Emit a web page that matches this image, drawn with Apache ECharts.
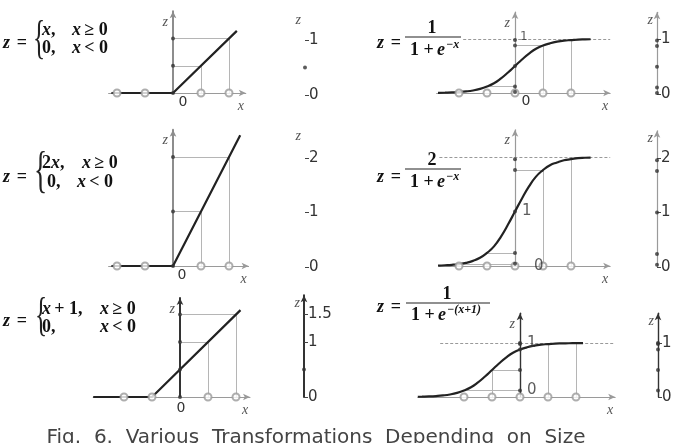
<!DOCTYPE html>
<html>
<head>
<meta charset="utf-8">
<script src="https://cdn.jsdelivr.net/npm/echarts@6/dist/echarts.min.js"></script>
<style>
html, body { margin: 0; padding: 0; background: #fff; }
#chart { width: 676px; height: 443px; }
</style>
</head>
<body>
<div id="chart"></div>
<script>
// ---- data ----
// sample inputs (circles on the x axis)
var reluSamples = [-1, -0.5, 0.5, 1];
var sigSamples = [-4, -2, 0, 2, 4];

// piecewise linear curves [x, z]
var relu1Curve = [[-1.1, 0], [0, 0], [1.14, 1.14]];
var relu2Curve = [[-1.1, 0], [0, 0], [1.2, 2.4]];
var relu3Curve = [[-1.55, 0], [-0.5, 0], [1.08, 1.58]];

// sigmoid curves
var sigX = [-5.5, -5, -4.5, -4, -3.5, -3, -2.5, -2, -1.5, -1, -0.5, 0, 0.5, 1, 1.5, 2, 2.5, 3, 3.5, 4, 4.5, 5, 5.4];
var sig1Z = [0.004, 0.007, 0.011, 0.018, 0.029, 0.047, 0.076, 0.12, 0.18, 0.27, 0.38, 0.5, 0.62, 0.73, 0.82, 0.88, 0.92, 0.95, 0.97, 0.98, 0.99, 0.993, 0.995];
var sig2Z = [0.008, 0.014, 0.022, 0.036, 0.058, 0.094, 0.15, 0.24, 0.36, 0.54, 0.76, 1.0, 1.24, 1.46, 1.64, 1.76, 1.85, 1.9, 1.94, 1.96, 1.98, 1.986, 1.99];
var sig3X = [-7.3, -7, -6.5, -6, -5.5, -5, -4.5, -4, -3.5, -3, -2.5, -2, -1.5, -1, -0.5, 0, 0.5, 1, 1.5, 2, 2.5, 3, 3.5, 4, 4.5];
var sig3Z = [0.005, 0.007, 0.011, 0.018, 0.029, 0.047, 0.076, 0.12, 0.18, 0.27, 0.38, 0.5, 0.62, 0.73, 0.82, 0.88, 0.92, 0.95, 0.97, 0.98, 0.99, 0.993, 0.995, 0.997, 0.998];

// guide segments [x1, z1, x2, z2]
var relu1Guides = [[0, 0.5, 0.5, 0.5], [0.5, 0, 0.5, 0.5], [0, 1, 1, 1], [1, 0, 1, 1]];
var relu2Guides = [[0, 1, 0.5, 1], [0.5, 0, 0.5, 1], [0, 2, 1, 2], [1, 0, 1, 2]];
var relu3Guides = [[0, 1, 0.5, 1], [0.5, 0, 0.5, 1], [0, 1.5, 1, 1.5], [1, 0, 1, 1.5]];
var sig1Guides = [[-2, 0.12, 0, 0.12], [0, 0.88, 2, 0.88], [2, 0, 2, 0.88], [4, 0, 4, 0.98]];
var sig2Guides = [[-4, 0.04, 0, 0.04], [-2, 0.24, 0, 0.24], [0, 1.76, 2, 1.76], [2, 0, 2, 1.76], [4, 0, 4, 1.96]];
var sig3Guides = [[-4, 0.12, 0, 0.12], [-2, 0.5, 0, 0.5], [-2, 0, -2, 0.5], [2, 0, 2, 0.98], [4, 0, 4, 1]];
var sig1Dash = [[-3.7, 1, 6.8, 1]];
var sig2Dash = [[-5.4, 2, 6.8, 2]];
var sig3Dash = [[-5.7, 1, 6.8, 1]];

// dots on the z axes
var relu1Dots = [0, 0.5, 1];
var relu2Dots = [0, 1, 2];
var relu3Dots = [0, 0.5, 1, 1.5];
var sig1Dots = [0.02, 0.12, 0.5, 0.88, 0.98];
var sig2Dots = [0.04, 0.24, 1, 1.76, 1.96];
var sig3Dots = [0.12, 0.5, 0.88, 0.98, 1];

// tick labels written next to the z axes of the sigmoid panels
var sig1ZLabels = [1];
var sig2ZLabels = [0, 1];
var sig3ZLabels = [0, 1];

// output axis tick labels and dots
var relu1Ticks = [0, 1];
var relu2Ticks = [0, 1, 2];
var relu3Ticks = [0, 1, 1.5];
var sig1Ticks = [0, 1];
var sig2Ticks = [0, 1, 2];
var sig3Ticks = [0, 1];
var relu1OutDots = [0.5];
var relu3OutDots = [0.5];

// ---- build ----
var chart = echarts.init(document.getElementById('chart'));
var grids = [], xAxes = [], yAxes = [], series = [];
var dark = '#222', gray = '#9a9a9a', light = '#b5b5b5';
var serif = '"Liberation Serif", "DejaVu Serif", serif';
var sans = '"DejaVu Sans", "Liberation Sans", sans-serif';

function segs(list, style) {
    return list.map(function (s) {
        return { coords: [[s[0], s[1]], [s[2], s[3]]], lineStyle: style };
    });
}

function addPanel(p) {
    var i = grids.length;
    grids.push({
        left: p.ox + p.xMin * p.xs, top: p.oy - p.zMax * p.zs,
        width: (p.xMax - p.xMin) * p.xs, height: p.zMax * p.zs,
        outerBoundsMode: 'none'
    });
    xAxes.push({
        gridIndex: i, type: 'value', min: p.xMin, max: p.xMax,
        splitLine: { show: false }, axisTick: { show: false },
        axisLine: { onZero: false, symbol: ['none', 'arrow'], symbolSize: [5, 7],
            lineStyle: { color: gray, width: 1 } },
        axisLabel: p.xLabel ? {
            show: true, customValues: [0], margin: p.xLabel.margin,
            fontFamily: sans, fontSize: 14, color: '#333',
            padding: [0, 0, 0, p.xLabel.dx]
        } : { show: false },
        name: 'x', nameLocation: 'end', nameGap: -5,
        nameTextStyle: { fontFamily: serif, fontStyle: 'italic', fontSize: 14, color: '#555',
            align: 'center', verticalAlign: 'top', padding: [6, 0, 0, 0] }
    });
    yAxes.push({
        gridIndex: i, type: 'value', min: 0, max: p.zMax,
        splitLine: { show: false }, axisTick: { show: false }, axisLabel: { show: false },
        axisLine: { onZero: true, symbol: ['none', 'arrow'], symbolSize: [5, 7],
            lineStyle: { color: p.zColor, width: p.zWidth } },
        name: 'z', nameLocation: 'end', nameGap: -4,
        nameTextStyle: { fontFamily: serif, fontStyle: 'italic', fontSize: 14, color: '#555',
            align: 'right', verticalAlign: 'top', padding: [0, 5, 0, 0] }
    });
    if (p.dash) {
        series.push({ type: 'lines', coordinateSystem: 'cartesian2d', xAxisIndex: i, yAxisIndex: i,
            z: 1, silent: true,
            data: segs(p.dash, { color: '#999', width: 1, type: [3, 2], opacity: 1 }) });
    }
    series.push({ type: 'lines', coordinateSystem: 'cartesian2d', xAxisIndex: i, yAxisIndex: i,
        z: 1, silent: true, data: segs(p.guides, { color: light, width: 1, opacity: 1 }) });
    series.push({ type: 'line', xAxisIndex: i, yAxisIndex: i, data: p.curve, symbol: 'none',
        smooth: p.smooth, z: 3, lineStyle: { color: dark, width: 2.2 } });
    series.push({ type: 'scatter', xAxisIndex: i, yAxisIndex: i, symbol: 'emptyCircle', symbolSize: 7,
        z: 4, itemStyle: { color: gray, borderWidth: 1.2 },
        data: p.samples.map(function (x) { return [x, 0]; }) });
    series.push({ type: 'scatter', xAxisIndex: i, yAxisIndex: i, symbolSize: 4, z: 5,
        itemStyle: { color: '#333' },
        data: p.dots.map(function (v) { return [0, v]; }) });
    if (p.zLabels) {
        series.push({ type: 'scatter', xAxisIndex: i, yAxisIndex: i, symbolSize: 0, z: 6,
            silent: true,
            data: p.zLabels.map(function (v) { return [0, v]; }),
            label: { show: true, position: 'right', fontFamily: sans, color: '#333',
                formatter: function (d) {
                    var v = d.value[1];
                    return '{t' + v + '|' + v + '}';
                },
                rich: p.zRich } });
    }
}

function addOutAxis(p) {
    var i = grids.length;
    grids.push({ left: p.x - 10, top: p.oy - p.zMax * p.zs, width: 10, height: p.zMax * p.zs,
        outerBoundsMode: 'none' });
    xAxes.push({ gridIndex: i, type: 'value', min: 0, max: 1, show: false });
    yAxes.push({
        gridIndex: i, type: 'value', min: 0, max: p.zMax, position: 'right',
        splitLine: { show: false },
        axisLine: { show: true, onZero: false, symbol: ['none', 'arrow'], symbolSize: [5, 7],
            lineStyle: { color: p.color, width: p.width } },
        axisTick: { show: true, customValues: p.ticks, length: 4, inside: false,
            lineStyle: { color: '#444', width: 1 } },
        axisLabel: { show: true, customValues: p.ticks, margin: 4,
            fontFamily: sans, fontSize: 15, color: '#333' },
        name: 'z', nameLocation: 'end', nameGap: -1,
        nameTextStyle: { fontFamily: serif, fontStyle: 'italic', fontSize: 14, color: '#555',
            align: 'right', verticalAlign: 'top', padding: [0, 4, 0, 0] }
    });
    series.push({ type: 'scatter', xAxisIndex: i, yAxisIndex: i, symbolSize: 4, z: 5,
        itemStyle: { color: '#333' },
        data: p.dots.map(function (v) { return [1, v]; }) });
}

addPanel({ ox: 173, oy: 93, xs: 56, zs: 54.5, xMin: -1.15, xMax: 1.3, zMax: 1.5,
    zColor: '#8d8d8d', zWidth: 2, curve: relu1Curve, smooth: false, samples: reluSamples,
    guides: relu1Guides, dots: relu1Dots, xLabel: { margin: 2, dx: 20 } });
addPanel({ ox: 173, oy: 266, xs: 56, zs: 54.5, xMin: -1.15, xMax: 1.35, zMax: 2.5,
    zColor: '#8d8d8d', zWidth: 2, curve: relu2Curve, smooth: false, samples: reluSamples,
    guides: relu2Guides, dots: relu2Dots, xLabel: { margin: 2, dx: 18 } });
addPanel({ ox: 180, oy: 397, xs: 56, zs: 55, xMin: -1.55, xMax: 1.25, zMax: 1.8,
    zColor: '#333', zWidth: 2, curve: relu3Curve, smooth: false, samples: reluSamples,
    guides: relu3Guides, dots: relu3Dots, xLabel: { margin: 4, dx: 2 } });

addPanel({ ox: 515, oy: 93, xs: 14, zs: 54, xMin: -5.6, xMax: 6.8, zMax: 1.5,
    zColor: gray, zWidth: 1.2, curve: sigX.map(function (x, k) { return [x, sig1Z[k]]; }),
    smooth: true, samples: sigSamples, guides: sig1Guides, dash: sig1Dash, dots: sig1Dots,
    xLabel: { margin: 1, dx: 22 },
    zLabels: sig1ZLabels,
    zRich: { t1: { fontFamily: sans, fontSize: 12, color: '#333', padding: [0, 0, 4, 0] } } });
addPanel({ ox: 515, oy: 266, xs: 14, zs: 54.5, xMin: -5.4, xMax: 6.8, zMax: 2.5,
    zColor: gray, zWidth: 1.2, curve: sigX.map(function (x, k) { return [x, sig2Z[k]]; }),
    smooth: true, samples: sigSamples, guides: sig2Guides, dash: sig2Dash, dots: sig2Dots,
    zLabels: sig2ZLabels,
    zRich: { t0: { fontFamily: sans, fontSize: 15, color: '#333', padding: [0, 0, 0, 14] },
             t1: { fontFamily: sans, fontSize: 15, color: '#333', padding: [0, 0, 0, 2] } } });
addPanel({ ox: 520, oy: 397, xs: 14, zs: 54, xMin: -7.3, xMax: 6.8, zMax: 1.55,
    zColor: '#333', zWidth: 1.4, curve: sig3X.map(function (x, k) { return [x, sig3Z[k]]; }),
    smooth: true, samples: sigSamples, guides: sig3Guides, dash: sig3Dash, dots: sig3Dots,
    zLabels: sig3ZLabels,
    zRich: { t0: { fontFamily: sans, fontSize: 15, color: '#333', padding: [0, 0, 14, 2] },
             t1: { fontFamily: sans, fontSize: 15, color: '#333', padding: [0, 0, 0, 2] } } });

addOutAxis({ x: 305, oy: 95, zs: 55, zMax: 1.5, color: 'rgba(0,0,0,0)', width: 1,
    ticks: relu1Ticks, dots: relu1OutDots });
addOutAxis({ x: 305, oy: 267, zs: 54.5, zMax: 2.55, color: 'rgba(0,0,0,0)', width: 1,
    ticks: relu2Ticks, dots: [] });
addOutAxis({ x: 304, oy: 397, zs: 55, zMax: 1.85, color: '#333', width: 2,
    ticks: relu3Ticks, dots: relu3OutDots });
addOutAxis({ x: 657, oy: 94, zs: 54.5, zMax: 1.5, color: gray, width: 1.2,
    ticks: sig1Ticks, dots: sig1Dots });
addOutAxis({ x: 657, oy: 267, zs: 54.5, zMax: 2.5, color: gray, width: 1.2,
    ticks: sig2Ticks, dots: sig2Dots });
addOutAxis({ x: 658, oy: 397, zs: 54, zMax: 1.55, color: '#333', width: 1.4,
    ticks: sig3Ticks, dots: sig3Dots });

// ---- formulas ----
var rich = {
    i: { fontFamily: serif, fontWeight: 'bold', fontStyle: 'italic', fontSize: 18, fill: '#111' },
    b: { fontFamily: serif, fontWeight: 'bold', fontSize: 18, fill: '#111' },
    s: { fontFamily: serif, fontWeight: 'bold', fontStyle: 'italic', fontSize: 12, fill: '#111' }
};
function tx(x, y, str, align) {
    return { type: 'text', x: x, y: y, silent: true,
        style: { text: str, rich: rich, align: align || 'left', verticalAlign: 'middle' } };
}
function brace(x, y, h) {
    return { type: 'text', x: x, y: y, scaleX: 0.55, silent: true,
        style: { text: '{', fontFamily: serif, fontSize: h, fill: '#222',
            align: 'left', verticalAlign: 'middle' } };
}
function bar(x1, x2, y) {
    return { type: 'line', silent: true, shape: { x1: x1, y1: y, x2: x2, y2: y },
        style: { stroke: '#222', lineWidth: 1.2 } };
}

var graphics = [
    tx(3, 43, '{i|z}  {b|=}'), brace(33, 41, 46),
    tx(42, 30, '{i|x}{b|,}'), tx(72, 30, '{i|x} {b|≥ 0}'),
    tx(42, 48, '{b|0,}'), tx(72, 48, '{i|x} {b|< 0}'),

    tx(3, 177, '{i|z}  {b|=}'), brace(34, 173, 50),
    tx(42, 163, '{b|2}{i|x}{b|,}'), tx(82, 163, '{i|x} {b|≥ 0}'),
    tx(47, 182, '{b|0,}'), tx(77, 182, '{i|x} {b|< 0}'),

    tx(3, 321, '{i|z}  {b|=}'), brace(35, 318, 46),
    tx(42, 309, '{i|x} {b|+ 1,}'), tx(100, 309, '{i|x} {b|≥ 0}'),
    tx(42, 327, '{b|0,}'), tx(100, 327, '{i|x} {b|< 0}'),

    tx(377, 43, '{i|z}  {b|=}'), tx(432, 28, '{b|1}', 'center'), bar(405, 461, 37),
    tx(445, 50, '{b|1 +} {i|e}', 'right'), tx(446, 45, '{s|−x}'),

    tx(377, 177, '{i|z}  {b|=}'), tx(432, 160, '{b|2}', 'center'), bar(405, 461, 169),
    tx(445, 182, '{b|1 +} {i|e}', 'right'), tx(446, 177, '{s|−x}'),

    tx(377, 307, '{i|z}  {b|=}'), tx(447, 294, '{b|1}', 'center'), bar(406, 490, 303),
    tx(446, 315, '{b|1 +} {i|e}', 'right'), tx(447, 310, '{s|−(x+1)}'),

    { type: 'text', x: 316, y: 428, silent: true,
      style: { text: 'Fig.  6.  Various  Transformations  Depending  on  Size',
          fontFamily: sans, fontSize: 20, fill: '#444', align: 'center', verticalAlign: 'top' } }
];

chart.setOption({
    animation: false,
    grid: grids,
    xAxis: xAxes,
    yAxis: yAxes,
    series: series,
    graphic: graphics
});
</script>
</body>
</html>
